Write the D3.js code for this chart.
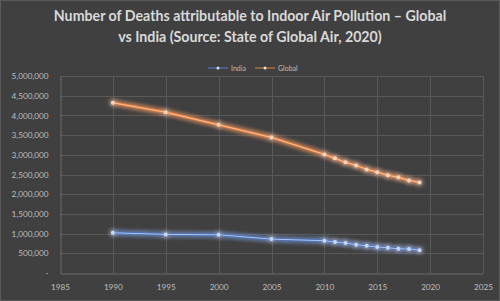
<!DOCTYPE html>
<html>
<head>
<meta charset="utf-8">
<script src="https://cdn.jsdelivr.net/npm/d3@7"></script>
<style>
  body { margin: 0; background: #404040; }
  svg { display: block; }
</style>
</head>
<body>
<svg id="chart"></svg>
<script>
// data
var years = [1990, 1995, 2000, 2005, 2010, 2011, 2012, 2013, 2014, 2015, 2016, 2017, 2018, 2019];
var india = [1020000, 980000, 970000, 860000, 820000, 785000, 760000, 720000, 690000, 660000, 640000, 615000, 610000, 580000];
var global = [4320000, 4080000, 3760000, 3440000, 3010000, 2910000, 2810000, 2730000, 2630000, 2560000, 2480000, 2430000, 2350000, 2300000];
var xTicks = [1985, 1990, 1995, 2000, 2005, 2010, 2015, 2020, 2025];
var yTicks = [0, 500000, 1000000, 1500000, 2000000, 2500000, 3000000, 3500000, 4000000, 4500000, 5000000];
var titleLines = ["Number of Deaths attributable to Indoor Air Pollution \u2013 Global",
                  "vs India (Source: State of Global Air, 2020)"];

var width = 500, height = 301;
var svg = d3.select('#chart').attr('width', width).attr('height', height);

svg.append('rect').attr('x', 0.5).attr('y', 0.5)
   .attr('width', width - 1).attr('height', height - 1)
   .attr('fill', '#404040').attr('stroke', '#5a5a5a');

// glow filter
var defs = svg.append('defs');
function glow(id) {
  var f = defs.append('filter').attr('id', id)
      .attr('x', '-20%').attr('y', '-50%').attr('width', '140%').attr('height', '200%');
  f.append('feGaussianBlur').attr('in', 'SourceGraphic').attr('stdDeviation', 2.4).attr('result', 'b');
  var m = f.append('feMerge');
  m.append('feMergeNode').attr('in', 'b');
  m.append('feMergeNode').attr('in', 'b');
  m.append('feMergeNode').attr('in', 'SourceGraphic');
}
glow('glowBlue');
glow('glowOrange');

var x = d3.scaleLinear().domain([1985, 2025]).range([60, 483]);
var y = d3.scaleLinear().domain([0, 5000000]).range([273, 76]);

var font = 'Lato, "Liberation Sans", sans-serif';

// title
svg.append('g').selectAll('text').data(titleLines).enter().append('text')
   .attr('x', 250).attr('y', function(d, i) { return 21 + i * 21; })
   .attr('text-anchor', 'middle')
   .attr('font-family', font).attr('font-weight', 'bold').attr('font-size', 14.2)
   .attr('fill', '#d9d9d9')
   .text(function(d) { return d; });

// grid
svg.append('g').selectAll('line').data(yTicks.slice(1)).enter().append('line')
   .attr('x1', 60).attr('x2', 483)
   .attr('y1', function(d) { return Math.round(y(d)) + 0.5; })
   .attr('y2', function(d) { return Math.round(y(d)) + 0.5; })
   .attr('stroke', '#595959').attr('stroke-width', 1);
svg.append('g').selectAll('line').data(xTicks.slice(1)).enter().append('line')
   .attr('y1', 76).attr('y2', 273)
   .attr('x1', function(d) { return Math.round(x(d)) + 0.5; })
   .attr('x2', function(d) { return Math.round(x(d)) + 0.5; })
   .attr('stroke', '#595959').attr('stroke-width', 1);

// axes
var xAxis = svg.append('g').attr('transform', 'translate(0,273.5)')
   .call(d3.axisBottom(x).tickValues(xTicks).tickFormat(d3.format('d')).tickSize(0).tickPadding(11));
var yAxis = svg.append('g').attr('transform', 'translate(60.5,0)')
   .call(d3.axisLeft(y).tickValues(yTicks).tickSize(0).tickPadding(12)
     .tickFormat(function(d) { return d === 0 ? '-' : d3.format(',')(d); }));
[xAxis, yAxis].forEach(function(a) {
  a.select('.domain').attr('stroke', '#6a6a6a');
  a.selectAll('text').attr('fill', '#bfbfbf').attr('font-size', 8.2).attr('font-family', font);
});

// series
var line = d3.line().x(function(d) { return x(d[0]); }).y(function(d) { return y(d[1]); });
function drawSeries(vals, color, light, filt) {
  var pts = years.map(function(yr, i) { return [yr, vals[i]]; });
  var g = svg.append('g').attr('filter', 'url(#' + filt + ')');
  g.append('path').datum(pts).attr('d', line)
   .attr('fill', 'none').attr('stroke', color).attr('stroke-width', 2.4);
  g.append('path').datum(pts).attr('d', line)
   .attr('fill', 'none').attr('stroke', light).attr('stroke-width', 0.8);
  g.selectAll('circle').data(pts).enter().append('circle')
   .attr('cx', function(d) { return x(d[0]); })
   .attr('cy', function(d) { return y(d[1]); })
   .attr('r', 2).attr('fill', light);
}
drawSeries(india, '#4472c4', '#c9d8f5', 'glowBlue');
drawSeries(global, '#ed7d31', '#fbd6bd', 'glowOrange');

// legend
var legend = [
  { name: 'India', color: '#4a6aa8', x: 208 },
  { name: 'Global', color: '#b06a3c', x: 255 }
];
var lg = svg.append('g').selectAll('g').data(legend).enter().append('g');
lg.append('line').attr('x1', function(d) { return d.x; }).attr('x2', function(d) { return d.x + 20; })
  .attr('y1', 68).attr('y2', 68).attr('stroke', function(d) { return d.color; }).attr('stroke-width', 1.5);
lg.append('circle').attr('cx', function(d) { return d.x + 10; }).attr('cy', 68).attr('r', 1.5).attr('fill', '#e0e0e0');
lg.append('text').attr('x', function(d) { return d.x + 23; }).attr('y', 70.5)
  .attr('font-family', font).attr('font-size', 7).attr('fill', '#bfbfbf')
  .text(function(d) { return d.name; });
</script>
</body>
</html>
